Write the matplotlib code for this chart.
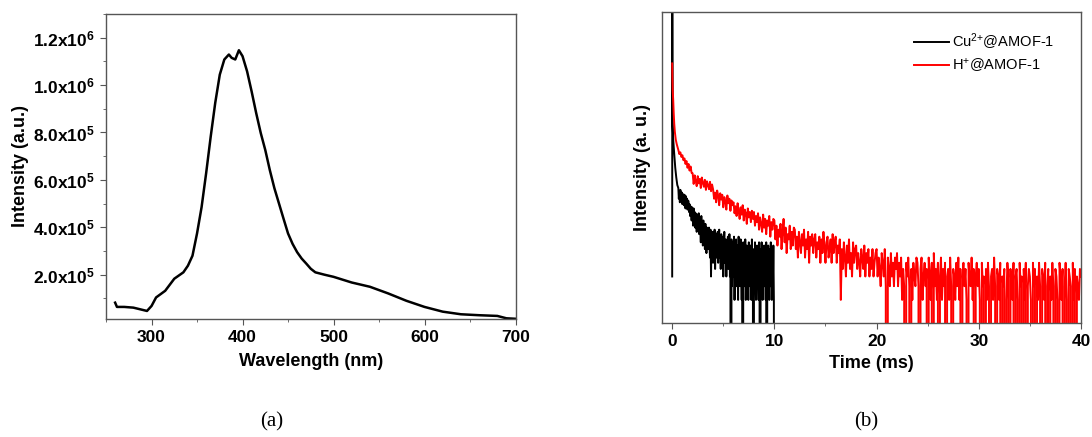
import matplotlib
matplotlib.use("Agg")
import matplotlib.pyplot as plt
from matplotlib.ticker import MultipleLocator, FuncFormatter, NullLocator
import numpy as np

plt.rcParams['font.family'] = ['Liberation Sans', 'DejaVu Sans']
plt.rcParams['mathtext.default'] = 'regular'
plt.rcParams['path.simplify'] = False

# (a) emission spectrum
wavelength = [260, 262, 270, 280, 295, 300, 305, 315, 325, 335, 340, 345, 350, 355,
              360, 365, 370, 375, 380, 385, 388, 392, 396, 400, 405, 410, 415, 420,
              425, 430, 435, 440, 445, 450, 455, 460, 465, 470, 475, 480, 490, 500,
              520, 540, 560, 580, 600, 620, 640, 660, 680, 690, 700]
intensity = [82000, 64000, 64000, 61000, 47000, 68000, 104000, 132000, 183000, 210000,
             238000, 280000, 374000, 485000, 628000, 782000, 925000, 1044000, 1108000,
             1129000, 1115000, 1108000, 1147000, 1122000, 1058000, 973000, 882000,
             798000, 726000, 641000, 565000, 501000, 437000, 374000, 330000, 295000,
             268000, 247000, 225000, 210000, 200000, 191000, 167000, 149000, 121000,
             90000, 64000, 44000, 33000, 29000, 26000, 16000, 14000]

# (b) decay curves (counts); early points, then 0.05 ms / 0.1 ms channels
cu_time = [0.0, 0.01, 0.03, 0.1, 0.2, 0.3, 0.4, 0.5] + \
          [round(0.6 + 0.05 * i, 2) for i in range(189)]
cu_counts = [4, 20000, 400, 230, 150, 100, 75, 60,
             55, 40, 50, 36, 52, 44, 38, 48, 34, 46, 41, 33, 45, 38, 30, 43, 36, 40, 29, 38,
             37, 27, 34, 24, 32, 28, 21, 31, 25, 18, 30, 23, 27, 17, 26, 20, 15, 25, 19, 22,
             26, 14, 22, 17, 11, 24, 15, 20, 10, 21, 13, 18, 9, 19, 14, 8, 17, 12, 16, 9,
             17, 10, 7, 16, 4, 13, 9, 15, 6, 12, 8, 16, 5, 11, 14, 7, 10, 15, 6, 12,
             16, 7, 11, 5, 14, 9, 6, 13, 4, 10, 15, 6, 8, 12, 4, 11, 7, 13, 5, 9,
             14, 4, 9, 0, 12, 3, 7, 11, 4, 13, 2, 8, 5, 12, 3, 10, 6, 2, 13, 4,
             9, 3, 12, 5, 2, 7, 0, 11, 4, 8, 3, 12, 2, 6, 10, 3, 7, 2, 11, 5,
             3, 10, 6, 2, 12, 4, 8, 0, 9, 3, 11, 5, 2, 7, 10, 3, 6, 2, 11, 4,
             0, 9, 3, 11, 5, 2, 8, 4, 10, 3, 7, 2, 11, 0, 6, 3, 10, 4, 2, 9,
             3, 11, 5, 2, 8, 3, 10, 2, 0]

h_time = [0, 0.02, 0.05, 0.1, 0.15, 0.2, 0.26, 0.35, 0.45] + \
         [round(0.6 + 0.1 * i, 2) for i in range(395)]
h_counts = [2200, 1500, 1000, 740, 500, 370, 290, 230, 200,
            170, 150, 158, 138, 145, 125, 132, 112, 122, 100, 112, 92, 104, 86,
            85, 62, 80, 68, 58, 78, 63, 72, 55, 75, 64, 57, 70, 52, 67, 60, 53, 66, 50, 61,
            53, 40, 48, 36, 51, 44, 33, 47, 39, 45, 31, 42, 37, 29, 44, 35, 40, 28, 38, 33,
            36, 26, 32, 24, 35, 28, 22, 31, 25, 33, 21, 29, 26, 19, 30, 23, 27, 20, 28, 22,
            27, 18, 24, 20, 26, 16, 23, 19, 15, 25, 17, 22, 14, 21, 18, 24, 13, 20, 16, 22,
            21, 12, 18, 10, 16, 13, 19, 9, 15, 22, 11, 17, 8, 14, 12, 18, 9, 15, 10, 17,
            16, 9, 13, 7, 15, 11, 8, 14, 10, 16, 7, 12, 9, 15, 6, 13, 10, 14, 8, 12,
            14, 7, 11, 9, 13, 6, 12, 8, 15, 10, 6, 11, 13, 7, 9, 12, 6, 14, 8, 11,
            13, 6, 10, 8, 12, 2, 9, 5, 11, 7, 4, 10, 6, 12, 5, 8, 4, 11, 6, 9,
            10, 5, 8, 6, 4, 9, 7, 5, 10, 4, 8, 6, 9, 4, 7, 5, 9, 4, 6, 8,
            9, 4, 7, 5, 3, 8, 6, 4, 9, 3, 0, 7, 5, 3, 8, 4, 6, 3, 7, 5,
            8, 3, 6, 4, 7, 2, 5, 3, 0, 6, 4, 7, 3, 0, 5, 2, 6, 4, 3, 7,
            6, 3, 0, 5, 7, 2, 4, 6, 3, 5, 0, 7, 4, 2, 6, 0, 8, 3, 5, 2,
            6, 0, 4, 7, 2, 5, 3, 6, 0, 4, 5, 2, 7, 3, 0, 5, 4, 2, 6, 3,
            7, 2, 5, 0, 4, 6, 3, 5, 2, 0, 6, 4, 3, 7, 2, 5, 0, 4, 6, 3,
            5, 2, 0, 6, 3, 4, 0, 5, 2, 6, 3, 0, 4, 5, 2, 7, 3, 0, 5, 4,
            2, 6, 0, 4, 3, 5, 0, 2, 6, 4, 0, 5, 3, 2, 6, 0, 4, 5, 2, 0,
            6, 3, 4, 0, 5, 2, 6, 0, 3, 5, 4, 2, 0, 6, 3, 5, 0, 4, 2, 6,
            3, 0, 5, 4, 2, 6, 0, 3, 5, 0, 4, 2, 6, 3, 0, 5, 4, 2, 0, 6,
            4, 2, 5, 0, 3, 6, 2, 0, 5, 4, 3, 0, 6, 2, 5, 0, 4, 3, 2, 5,
            4]

spine_color = '#555555'


def style_axes(ax):
    for s in ax.spines.values():
        s.set_color(spine_color)
        s.set_linewidth(1.0)
    ax.tick_params(which='both', direction='out', color=spine_color, top=False, right=False)
    ax.tick_params(which='major', length=4, labelsize=12.5, pad=4)
    ax.tick_params(which='minor', length=2.5)
    for lbl in ax.get_xticklabels() + ax.get_yticklabels():
        lbl.set_fontweight('bold')


def sci_label(v, pos):
    exp = int(np.floor(np.log10(v)))
    mant = v / 10 ** exp
    return '%.1fx10$^{%d}$' % (mant, exp)


fig = plt.figure(figsize=(10.92, 4.37), dpi=100)

ax1 = fig.add_axes([0.0971, 0.270, 0.375, 0.698])
ax1.plot(wavelength, intensity, color='black', linewidth=1.8)
ax1.set_xlim(250, 700)
ax1.set_ylim(13000, 1.3e6)
ax1.xaxis.set_major_locator(MultipleLocator(100))
ax1.xaxis.set_minor_locator(MultipleLocator(50))
ax1.set_yticks([2e5, 4e5, 6e5, 8e5, 1e6, 1.2e6])
ax1.yaxis.set_minor_locator(MultipleLocator(1e5))
ax1.yaxis.set_major_formatter(FuncFormatter(sci_label))
ax1.set_xlabel('Wavelength (nm)', fontsize=13, fontweight='bold', labelpad=6)
ax1.set_ylabel('Intensity (a.u.)', fontsize=13, fontweight='bold', labelpad=3)
style_axes(ax1)

ax2 = fig.add_axes([0.6062, 0.2602, 0.3837, 0.7117])
ax2.plot(cu_time, cu_counts, color='black', linewidth=1.4, label='Cu$^{2{+}}$@AMOF-1')
ax2.plot(h_time, h_counts, color='red', linewidth=1.4, label='H$^{+}$@AMOF-1')
ax2.set_yscale('log')
ax2.set_xlim(-1, 40)
ax2.set_ylim(1, 1e4)
ax2.xaxis.set_major_locator(MultipleLocator(10))
ax2.xaxis.set_minor_locator(MultipleLocator(5))
ax2.yaxis.set_major_locator(NullLocator())
ax2.yaxis.set_minor_locator(NullLocator())
ax2.set_xlabel('Time (ms)', fontsize=13, fontweight='bold', labelpad=4)
ax2.set_ylabel('Intensity (a. u.)', fontsize=13, fontweight='bold', labelpad=8)
ax2.legend(loc='upper right', frameon=False, fontsize=10.5, handlelength=2.4,
           handletextpad=0.2, labelspacing=0.3, borderaxespad=0.9,
           bbox_to_anchor=(0.982, 1.0))
style_axes(ax2)

fig.text(0.249, 0.025, '(a)', fontsize=15, family='Liberation Serif', ha='center')
fig.text(0.793, 0.025, '(b)', fontsize=15, family='Liberation Serif', ha='center')

fig.savefig('out.png', dpi=100)
